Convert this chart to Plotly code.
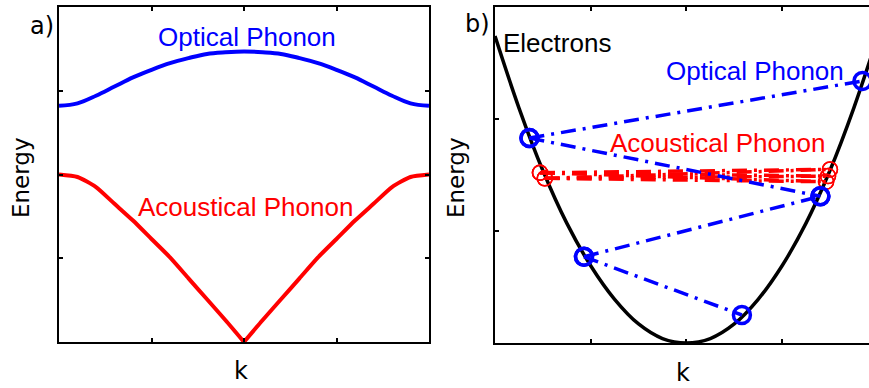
import plotly.graph_objects as go

W, H = 869, 388

# ---------------- data: panel a (phonon dispersion) ----------------
k_a = [-1.0, -0.9, -0.8, -0.7, -0.6, -0.5, -0.4, -0.3, -0.2, -0.1, 0.0,
       0.1, 0.2, 0.3, 0.4, 0.5, 0.6, 0.7, 0.8, 0.9, 1.0]
optical_E = [2.82, 2.85, 2.94, 3.05, 3.16, 3.25, 3.33, 3.39, 3.44, 3.46, 3.47,
             3.46, 3.44, 3.39, 3.33, 3.25, 3.16, 3.05, 2.94, 2.85, 2.82]
acoustic_E = [2.00, 1.97, 1.85, 1.65, 1.45, 1.23, 1.01, 0.76, 0.51, 0.26, 0.00,
              0.26, 0.51, 0.76, 1.01, 1.23, 1.45, 1.65, 1.85, 1.97, 2.00]

# ---------------- data: panel b (electron band + scattering) ----------------
k_b = [0.0, 0.25, 0.5, 0.75, 1.0, 1.25, 1.5, 1.75, 2.0,
       2.25, 2.5, 2.75, 3.0, 3.25, 3.5, 3.75, 4.0]
electron_E = [2.74, 2.10, 1.54, 1.07, 0.69, 0.39, 0.17, 0.04, 0.00,
              0.04, 0.17, 0.39, 0.69, 1.07, 1.54, 2.10, 2.74]

# optical phonon transitions (start -> end)
opt_k0 = [0.36, 0.36, 0.93, 0.93]
opt_E0 = [1.83, 1.83, 0.77, 0.77]
opt_k1 = [3.84, 3.40, 3.40, 2.58]
opt_E1 = [2.34, 1.31, 1.31, 0.25]

# acoustical phonon transitions (start -> end)
ac_k0 = [0.47, 0.47, 0.47, 0.52, 0.52, 0.52]
ac_E0 = [1.52, 1.52, 1.52, 1.47, 1.47, 1.47]
ac_k1 = [3.50, 3.48, 3.46, 3.50, 3.48, 3.46]
ac_E1 = [1.55, 1.49, 1.44, 1.55, 1.49, 1.44]

BLUE = "#0000ff"
RED = "#ff0000"
FONT = "Liberation Sans, Arial, sans-serif"
FONT2 = "DejaVu Sans, Verdana, sans-serif"
DASH = "15px,7px,3px,7px"

fig = go.Figure()

# panel a
fig.add_trace(go.Scatter(x=k_a, y=optical_E, mode="lines", xaxis="x", yaxis="y",
                         line=dict(color=BLUE, width=4, shape="spline"), showlegend=False))
mid = k_a.index(0.0)
fig.add_trace(go.Scatter(x=k_a[:mid + 1], y=acoustic_E[:mid + 1], mode="lines", xaxis="x", yaxis="y",
                         line=dict(color=RED, width=4, shape="spline", smoothing=0.6),
                         showlegend=False, cliponaxis=False))
fig.add_trace(go.Scatter(x=k_a[mid:], y=acoustic_E[mid:], mode="lines", xaxis="x", yaxis="y",
                         line=dict(color=RED, width=4, shape="spline", smoothing=0.6),
                         showlegend=False, cliponaxis=False))

# panel b
fig.add_trace(go.Scatter(x=k_b, y=electron_E, mode="lines", xaxis="x2", yaxis="y2",
                         line=dict(color="black", width=3.5, shape="spline"), showlegend=False))

for i in range(len(ac_k0)):
    fig.add_trace(go.Scatter(x=[ac_k0[i], ac_k1[i]], y=[ac_E0[i], ac_E1[i]], mode="lines",
                             xaxis="x2", yaxis="y2", showlegend=False,
                             line=dict(color=RED, width=3.5, dash=DASH)))
fig.add_trace(go.Scatter(x=ac_k0 + ac_k1, y=ac_E0 + ac_E1, mode="markers",
                         xaxis="x2", yaxis="y2", showlegend=False,
                         marker=dict(symbol="circle-open", size=15, color=RED,
                                     line=dict(width=1.5, color=RED))))

for i in range(len(opt_k0)):
    fig.add_trace(go.Scatter(x=[opt_k0[i], opt_k1[i]], y=[opt_E0[i], opt_E1[i]], mode="lines",
                             xaxis="x2", yaxis="y2", showlegend=False,
                             line=dict(color=BLUE, width=3.5, dash=DASH)))
fig.add_trace(go.Scatter(x=opt_k0 + opt_k1, y=opt_E0 + opt_E1, mode="markers",
                         xaxis="x2", yaxis="y2", showlegend=False,
                         marker=dict(symbol="circle-open", size=17, color=BLUE,
                                     line=dict(width=3.5, color=BLUE))))

ax_common = dict(showline=True, linecolor="black", linewidth=2, ticks="inside",
                 ticklen=4, tickwidth=1.5, tickcolor="black", showticklabels=False,
                 showgrid=False, zeroline=False)

def px_x(p):
    return p / W

def px_y(p):
    return 1 - p / H

fig.update_layout(
    width=W, height=H, margin=dict(l=0, r=0, t=0, b=0),
    plot_bgcolor="white", paper_bgcolor="white", showlegend=False,
    xaxis=dict(domain=[px_x(59), px_x(429)], range=[-1, 1], tickvals=[-0.5, 0, 0.5],
               anchor="y", mirror="ticks", **ax_common),
    yaxis=dict(domain=[px_y(342), px_y(7)], range=[0, 4], tickvals=[1, 2, 3],
               anchor="x", mirror="ticks", **ax_common),
    xaxis2=dict(domain=[px_x(495), 1.0], range=[0, (W - 495) / 95.7], tickvals=[1, 2, 3],
                anchor="y2", mirror="ticks", **ax_common),
    yaxis2=dict(domain=[px_y(343), px_y(7)], range=[0, 3], tickvals=[1, 2],
                anchor="x2", mirror=False, **ax_common),
)

def label(text, x, y, color="black", size=26, angle=0, family=FONT):
    fig.add_annotation(text=text, x=px_x(x), y=px_y(y), xref="paper", yref="paper",
                       showarrow=False, xanchor="center", yanchor="middle",
                       textangle=angle, font=dict(family=family, size=size, color=color))

label("a)", 42, 26, family=FONT2, size=24)
label("Optical Phonon", 247, 37, color=BLUE)
label("Acoustical Phonon", 245, 207, color=RED)
label("Energy", 21, 178, angle=-90, family=FONT2, size=23)
label("k", 241, 371, family=FONT2, size=24)

label("b)", 477, 24, family=FONT2, size=24)
label("Electrons", 557, 43)
label("Optical Phonon", 755, 71, color=BLUE)
label("Acoustical Phonon", 717, 143, color=RED)
label("Energy", 456, 178, angle=-90, family=FONT2, size=23)
label("k", 683, 373, family=FONT2, size=24)

fig.write_html("out.html")
